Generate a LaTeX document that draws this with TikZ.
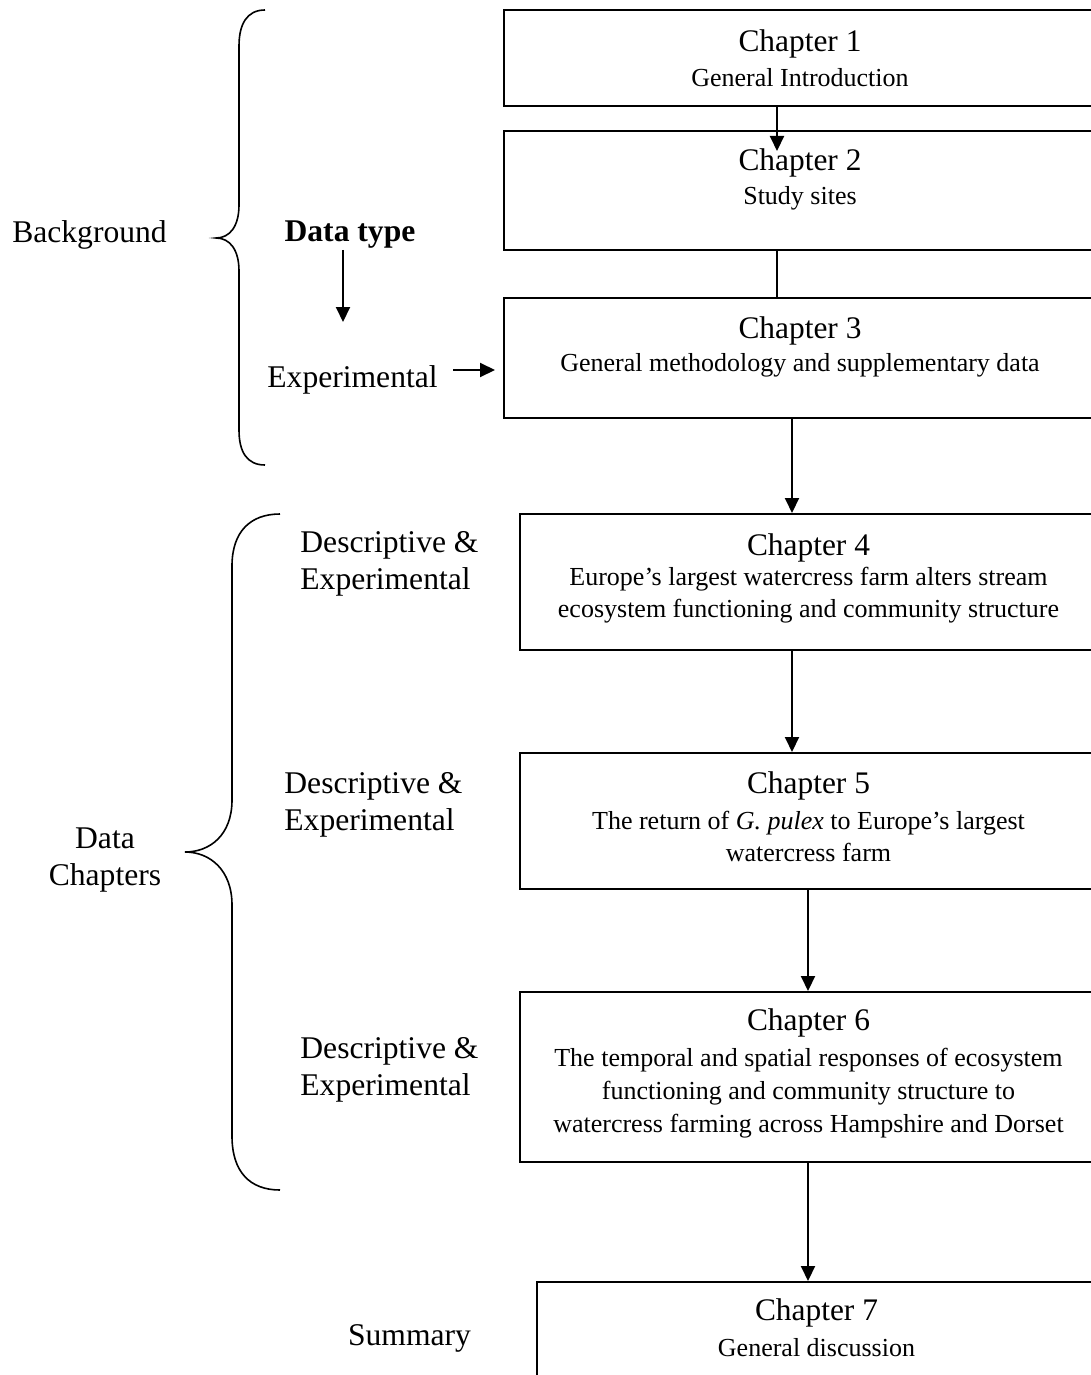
\documentclass[tikz,border=0pt]{standalone}
\usepackage{fontspec}
\setmainfont{Liberation Serif}
\usetikzlibrary{arrows.meta,fit}
\begin{document}
\begin{tikzpicture}[x=0.5pt,y=-0.5pt,
  box/.style={draw, line width=1pt, inner sep=0pt, rectangle},
  arr/.style={line width=1pt, -{Triangle[length=7.5pt,width=7pt]}},
  conn/.style={line width=1pt},
  brace/.style={line width=0.8pt},
  ttl/.style={font=\fontsize{15.7}{18}\selectfont, inner sep=0pt, yshift=-1.5pt},
  dsc/.style={font=\fontsize{13}{16}\selectfont, align=center, inner sep=0pt, yshift=-1.5pt},
  lbl/.style={font=\fontsize{15.8}{18.8}\selectfont, inner sep=0pt, yshift=-1.5pt}
]
\useasboundingbox (0,0) rectangle (1091,1375);
\begin{scope}
\clip (0,0) rectangle (1091,1375);

% boxes
\node[box, fit={(504,10) (1097,106)}] (b1) {};
\node[box, fit={(504,131) (1097,250)}] (b2) {};
\node[box, fit={(504,298) (1097,418)}] (b3) {};
\node[box, fit={(520,514) (1097,650)}] (b4) {};
\node[box, fit={(520,753) (1097,889)}] (b5) {};
\node[box, fit={(520,992) (1097,1162)}] (b6) {};
\node[box, fit={(537,1282) (1097,1420)}] (b7) {};

% box texts
\node[ttl] (t1) at (800,41) {Chapter 1};
\node[dsc] (s1) at (800,75) {General Introduction};
\node[ttl] (t2) at (800,160) {Chapter 2};
\node[dsc] (s2) at (800,195) {Study sites};
\node[ttl] (t3) at (800,328) {Chapter 3};
\node[dsc] (s3) at (800,362) {General methodology and supplementary data};
\node[ttl] (t4) at (808.5,545) {Chapter 4};
\node[dsc] (s4) at (808.5,592.5) {Europe’s largest watercress farm alters stream\\ecosystem functioning and community structure};
\node[ttl] (t5) at (808.5,783) {Chapter 5};
\node[dsc] (s5) at (808.5,833.5) {The return of \textit{G. pulex} to Europe’s largest\\watercress farm};
\node[ttl] (t6) at (808.5,1020) {Chapter 6};
\node[dsc, font=\fontsize{13}{16.5}\selectfont] (s6) at (808.5,1090) {The temporal and spatial responses of ecosystem\\functioning and community structure to\\watercress farming across Hampshire and Dorset};
\node[ttl] (t7) at (816.5,1310) {Chapter 7};
\node[dsc] (s7) at (816.5,1345) {General discussion};

% connectors between boxes
\coordinate (xa) at (777,0);
\coordinate (xb) at (792,0);
\coordinate (xc) at (808,0);
\draw[arr, shorten >=-10.5pt] (b1.south -| xa) -- (b2.north -| xa);
\draw[conn] (b2.south -| xa) -- (b3.north -| xa);
\draw[arr] (b3.south -| xb) -- (b4.north -| xb);
\draw[arr] (b4.south -| xb) -- (b5.north -| xb);
\draw[arr] (b5.south -| xc) -- (b6.north -| xc);
\draw[arr] (b6.south -| xc) -- (b7.north -| xc);

% left labels
\node[lbl] (bg) at (89.5,232) {Background};
\node[lbl, font=\fontsize{15.8}{18.8}\selectfont\bfseries] (dt) at (350,232) {Data type};
\node[lbl] (ex) at (352.5,377) {Experimental};
\coordinate (dta) at (343,250);
\coordinate (dtb) at (343,322);
\draw[arr] (dta) -- (dtb);
\coordinate (exa) at (453,370);
\draw[arr, shorten >=4pt] (exa) -- (exa -| b3.west);

\node[lbl, align=center] (dc) at (105,857) {Data\\Chapters};
\node[lbl, align=left, anchor=west] (d4) at (300,561) {Descriptive \&\\Experimental};
\node[lbl, align=left, anchor=west] (d5) at (284,802) {Descriptive \&\\Experimental};
\node[lbl, align=left, anchor=west] (d6) at (300,1067) {Descriptive \&\\Experimental};
\node[lbl] (sm) at (409.5,1335) {Summary};

% braces
\draw[brace] (265,10) .. controls (247,10) and (239,24) .. (239,46) -- (239,205)
  .. controls (239,226) and (230,238) .. (216,238)
  .. controls (230,238) and (239,250) .. (239,271) -- (239,430)
  .. controls (239,452) and (247,465) .. (265,465);
\draw[brace] (280,514) .. controls (250,514) and (232,532) .. (232,566) -- (232,800)
  .. controls (232,835) and (210,852) .. (185,852)
  .. controls (210,852) and (232,870) .. (232,905) -- (232,1136)
  .. controls (232,1172) and (250,1190) .. (280,1190);
\end{scope}
\end{tikzpicture}
\end{document}
